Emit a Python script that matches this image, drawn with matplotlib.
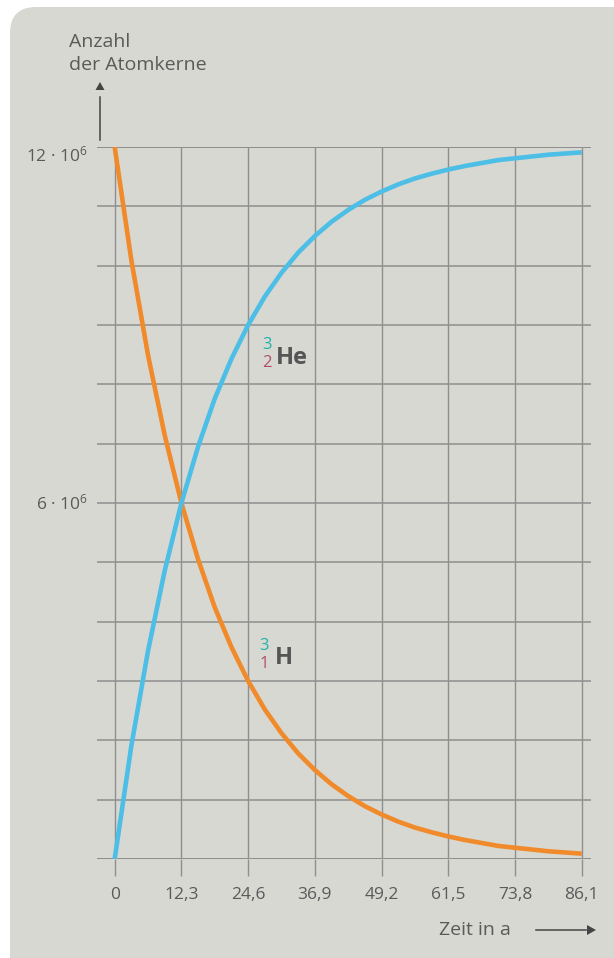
import matplotlib
matplotlib.use("Agg")
import matplotlib.pyplot as plt
from matplotlib.patches import FancyBboxPatch, Polygon
from matplotlib.lines import Line2D
from matplotlib.transforms import IdentityTransform

plt.rcParams['font.family'] = ['Open Sans', 'DejaVu Sans']
plt.rcParams['mathtext.fontset'] = 'custom'
plt.rcParams['mathtext.rm'] = 'Open Sans'
plt.rcParams['mathtext.it'] = 'Open Sans'

# ---- data (millions of nuclei) ----
t_years = [0, 3.075, 6.15, 9.225, 12.3, 15.375, 18.45, 21.525, 24.6, 27.675, 30.75,
           33.825, 36.9, 39.975, 43.05, 46.125, 49.2, 52.275, 55.35, 58.425, 61.5,
           64.575, 67.65, 70.725, 73.8, 76.875, 79.95, 83.025, 86.1]
h3_mio = [12.0, 10.09, 8.49, 7.14, 6.0, 5.05, 4.24, 3.57, 3.0, 2.52, 2.12,
          1.78, 1.5, 1.26, 1.06, 0.89, 0.75, 0.63, 0.53, 0.45, 0.38,
          0.32, 0.27, 0.22, 0.19, 0.16, 0.13, 0.11, 0.09]
he3_mio = [0.0, 1.91, 3.51, 4.86, 6.0, 6.95, 7.76, 8.43, 9.0, 9.48, 9.88,
           10.22, 10.5, 10.74, 10.94, 11.11, 11.25, 11.37, 11.47, 11.55, 11.62,
           11.68, 11.73, 11.78, 11.81, 11.84, 11.87, 11.89, 11.91]
x_ticks = [0, 12.3, 24.6, 36.9, 49.2, 61.5, 73.8, 86.1]
x_tick_labels = ['0', '12,3', '24,6', '36,9', '49,2', '61,5', '73,8', '86,1']
y_grid = list(range(0, 13))
y_labels = {12: r'12 · 10$^{6}$', 6: r'6 · 10$^{6}$'}

W, H = 614, 958
fig = plt.figure(figsize=(W / 100, H / 100), dpi=100)
fig.patch.set_facecolor('white')

card_col = '#d7d8d2'
card = FancyBboxPatch((10, -60), 700, H - 7 + 60, boxstyle='round,pad=0,rounding_size=26',
                      transform=IdentityTransform(), facecolor=card_col, edgecolor='none',
                      zorder=0)
fig.add_artist(card)

# axes placement (pixel-based)
x0px, x1px = 97, 591
ytop, ybot = 147, 859
ax = fig.add_axes([x0px / W, (H - ybot) / H, (x1px - x0px) / W, (ybot - ytop) / H])
ax.set_facecolor('none')
ax.set_xlim(-3.26, 87.8)
ax.set_ylim(0, 12)
for s in ax.spines.values():
    s.set_visible(False)

grid_col = '#8f8f8f'
for yv in y_grid:
    c = '#7a7a7a' if yv in (0, 12) else grid_col
    ax.axhline(yv, color=c, lw=1.1, zorder=1)
ax.vlines(x_ticks, 0, 12, color=grid_col, lw=1.0, zorder=1)

txt_col = '#5a5a5a'
ax.set_xticks(x_ticks)
ax.set_xticklabels(x_tick_labels)
ax.tick_params(axis='x', direction='out', length=12.5, width=1.0, color=grid_col,
               pad=8, labelsize=12.5, labelcolor=txt_col)
ax.set_yticks([])

for yv, lab in y_labels.items():
    yy = yv - 0.15 if yv == 12 else yv
    ax.text(-4.9, yy, lab, ha='right', va='center', fontsize=12.5, color=txt_col,
            clip_on=False)

ax.plot(t_years, h3_mio, color='#f08a2a', lw=3.3, solid_capstyle='butt',
        solid_joinstyle='round', zorder=3)
ax.plot(t_years, he3_mio, color='#4dbee6', lw=3.3, solid_capstyle='butt',
        solid_joinstyle='round', zorder=3)

# nuclide labels
teal, mar, dark = '#1fb3ad', '#b04d6c', '#555555'
ax.text(29.7, 8.44, 'He', fontsize=17, fontweight='bold', color=dark, ha='left', va='center')
ax.text(28.0, 8.67, '3', fontsize=12, color=teal, ha='center', va='center')
ax.text(28.0, 8.36, '2', fontsize=12, color=mar, ha='center', va='center')
ax.text(29.5, 3.39, 'H', fontsize=17, fontweight='bold', color=dark, ha='left', va='center')
ax.text(27.6, 3.59, '3', fontsize=12, color=teal, ha='center', va='center')
ax.text(27.6, 3.29, '1', fontsize=12, color=mar, ha='center', va='center')

# axis titles and arrows (pixel coordinates)
def fx(px):
    return px / W

def fy(py):
    return (H - py) / H

fig.text(fx(69), fy(42), 'Anzahl', fontsize=14, color=txt_col, ha='left', va='center')
fig.text(fx(69), fy(65), 'der Atomkerne', fontsize=14, color=txt_col, ha='left', va='center')
arr_col = '#444444'
fig.add_artist(Line2D([fx(100), fx(100)], [fy(97), fy(140)], color=arr_col, lw=1.1))
fig.add_artist(Polygon([[fx(95.5), fy(90)], [fx(104.5), fy(90)], [fx(100), fy(82)]],
                       closed=True, facecolor=arr_col, edgecolor='none'))

fig.text(fx(439), fy(930), 'Zeit in a', fontsize=14, color=txt_col, ha='left', va='center')
fig.add_artist(Line2D([fx(536), fx(586)], [fy(930), fy(930)], color=arr_col, lw=1.1))
fig.add_artist(Polygon([[fx(587), fy(925)], [fx(587), fy(935)], [fx(596), fy(930)]],
                       closed=True, facecolor=arr_col, edgecolor='none'))

fig.savefig('out.png', dpi=100, facecolor='white')
